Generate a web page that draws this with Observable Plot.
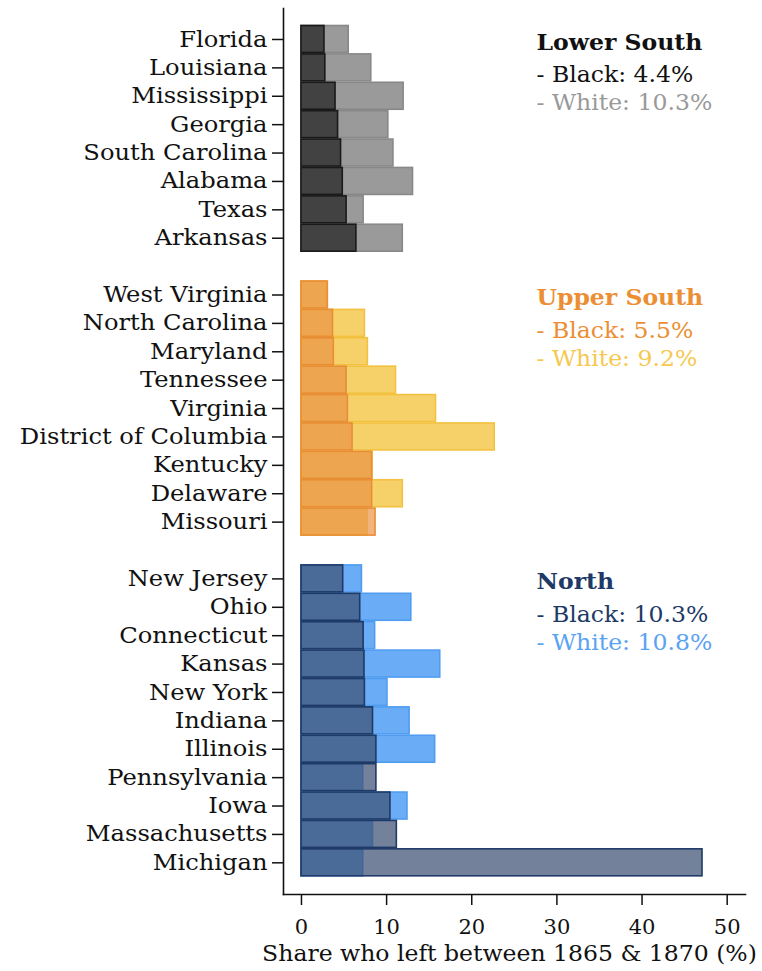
<!DOCTYPE html>
<html>
<head>
<meta charset="utf-8">
<script src="https://cdn.jsdelivr.net/npm/d3@7"></script>
<script src="https://cdn.jsdelivr.net/npm/@observablehq/plot@0.6"></script>
<style>
  html, body { margin: 0; padding: 0; background: #fff; }
  #chart svg { display: block; }
</style>
</head>
<body>
<div id="chart"></div>
<script>
// ---- Data ----
const states = [
  "Florida", "Louisiana", "Mississippi", "Georgia", "South Carolina", "Alabama", "Texas", "Arkansas",
  "West Virginia", "North Carolina", "Maryland", "Tennessee", "Virginia", "District of Columbia", "Kentucky", "Delaware", "Missouri",
  "New Jersey", "Ohio", "Connecticut", "Kansas", "New York", "Indiana", "Illinois", "Pennsylvania", "Iowa", "Massachusetts", "Michigan"
];
const stateRegion = [
  "Lower South", "Lower South", "Lower South", "Lower South", "Lower South", "Lower South", "Lower South", "Lower South",
  "Upper South", "Upper South", "Upper South", "Upper South", "Upper South", "Upper South", "Upper South", "Upper South", "Upper South",
  "North", "North", "North", "North", "North", "North", "North", "North", "North", "North", "North"
];
const blackShare = [
  2.7, 2.8, 4.0, 4.3, 4.65, 4.85, 5.3, 6.45,
  3.1, 3.7, 3.8, 5.3, 5.45, 6.0, 8.3, 8.3, 8.7,
  4.9, 6.9, 7.3, 7.4, 7.45, 8.4, 8.8, 8.8, 10.45, 11.2, 47.1
];
const whiteShare = [
  5.55, 8.2, 12.0, 10.2, 10.8, 13.1, 7.3, 11.9,
  3.0, 7.45, 7.8, 11.1, 15.8, 22.7, 8.35, 11.9, 7.75,
  7.1, 12.9, 8.65, 16.3, 10.1, 12.7, 15.7, 7.25, 12.45, 8.4, 7.25
];
const regions = ["Lower South", "Upper South", "North"];
const regionBlackAvg = [4.4, 5.5, 10.3];
const regionWhiteAvg = [10.3, 9.2, 10.8];
const xTicks = [0, 10, 20, 30, 40, 50];
const xTitle = "Share who left between 1865 & 1870 (%)";

// ---- Styles ----
const style = {
  "Lower South": {bFill: "#333333", bOp: 0.85, bStroke: "#1a1a1a", wFill: "#9a9a9a", wStroke: "#888888", head: "#111111", bText: "#111111", wText: "#999999"},
  "Upper South": {bFill: "#ea9444", bOp: 0.7, bStroke: "#e88e36", wFill: "#f6d16a", wStroke: "#f3c13f", head: "#ec8f34", bText: "#ec8f34", wText: "#f6c850"},
  "North":       {bFill: "#3e5074", bOp: 0.72, bStroke: "#1e3a66", wFill: "#6aacf5", wStroke: "#4f9cf0", head: "#1e3a66", bText: "#1e3a66", wText: "#5aa2f2"}
};

// ---- Build tables ----
const rows = states.map((s, i) => ({state: s, region: stateRegion[i], black: blackShare[i], white: whiteShare[i]}));
const yDomain = [...states.slice(0, 8), "gap1", ...states.slice(8, 17), "gap2", ...states.slice(17)];
const firstStates = regions.map(r => rows.filter(d => d.region === r));
const legendHead = regions.map((r, i) => ({text: r, region: r, y: firstStates[i][0].state}));
const legendBlack = regions.map((r, i) => ({text: `- Black: ${regionBlackAvg[i]}%`, region: r, y: firstStates[i][1].state}));
const legendWhite = regions.map((r, i) => ({text: `- White: ${regionWhiteAvg[i]}%`, region: r, y: firstStates[i][2].state}));

const FONT = "DejaVu Serif";
const legendX = 27.6;

const chart = Plot.plot({
  width: 762,
  height: 971,
  marginLeft: 283,
  marginRight: 17,
  marginTop: 8,
  marginBottom: 77,
  style: {fontFamily: FONT, fontSize: "22px", color: "#111", background: "#fff"},
  x: {domain: [-2.11, 52.15], axis: null},
  y: {domain: yDomain, range: [25.5, 875.8], paddingInner: 0.05, paddingOuter: 0, round: false, axis: null},
  marks: [
    Plot.barX(rows, {
      y: "state", x1: 0, x2: "white",
      fill: d => style[d.region].wFill,
      stroke: d => style[d.region].wStroke,
      strokeWidth: 1.6
    }),
    Plot.barX(rows, {
      y: "state", x1: 0, x2: "black",
      fill: d => style[d.region].bFill,
      fillOpacity: d => style[d.region].bOp,
      stroke: d => style[d.region].bStroke,
      strokeWidth: 1.6
    }),
    Plot.frame({anchor: "left", stroke: "#111", strokeWidth: 1.6}),
    Plot.frame({anchor: "bottom", stroke: "#111", strokeWidth: 1.6}),
    Plot.axisY({ticks: states, tickSize: 11, tickPadding: 5, fontSize: 22, label: null, strokeWidth: 1.5}),
    Plot.axisX({ticks: xTicks, tickSize: 11, tickPadding: 14, fontSize: 21, label: null, strokeWidth: 1.5}),
    Plot.text([xTitle], {text: d => d, frameAnchor: "bottom", lineAnchor: "middle", dy: 59, dx: -5, fontSize: 22, fill: "#111"}),
    Plot.text(legendHead, {x: () => legendX, y: "y", text: "text", textAnchor: "start", dy: 3, fontSize: 22, fontWeight: "bold", fill: d => style[d.region].head}),
    Plot.text(legendBlack, {x: () => legendX, y: "y", text: "text", textAnchor: "start", dy: 7.5, fontSize: 22, fill: d => style[d.region].bText}),
    Plot.text(legendWhite, {x: () => legendX, y: "y", text: "text", textAnchor: "start", dy: 7, fontSize: 22, fill: d => style[d.region].wText})
  ]
});

// Widen glyphs slightly to mimic the reference's broader serif face (text stays real text).
function widen(t, k) {
  const tr = t.getAttribute("transform");
  if (tr) {
    t.setAttribute("transform", `${tr} scale(${k},1)`);
  } else {
    const x = +(t.getAttribute("x") || 0), y = +(t.getAttribute("y") || 0);
    t.setAttribute("transform", `translate(${x},${y}) scale(${k},1) translate(${-x},${-y})`);
  }
}
chart.querySelectorAll('g[aria-label="y-axis tick label"] text').forEach(t => widen(t, 1.1));
chart.querySelectorAll('g[aria-label="text"] text').forEach(t => widen(t, 1.07));

document.getElementById("chart").appendChild(chart);
</script>
</body>
</html>
